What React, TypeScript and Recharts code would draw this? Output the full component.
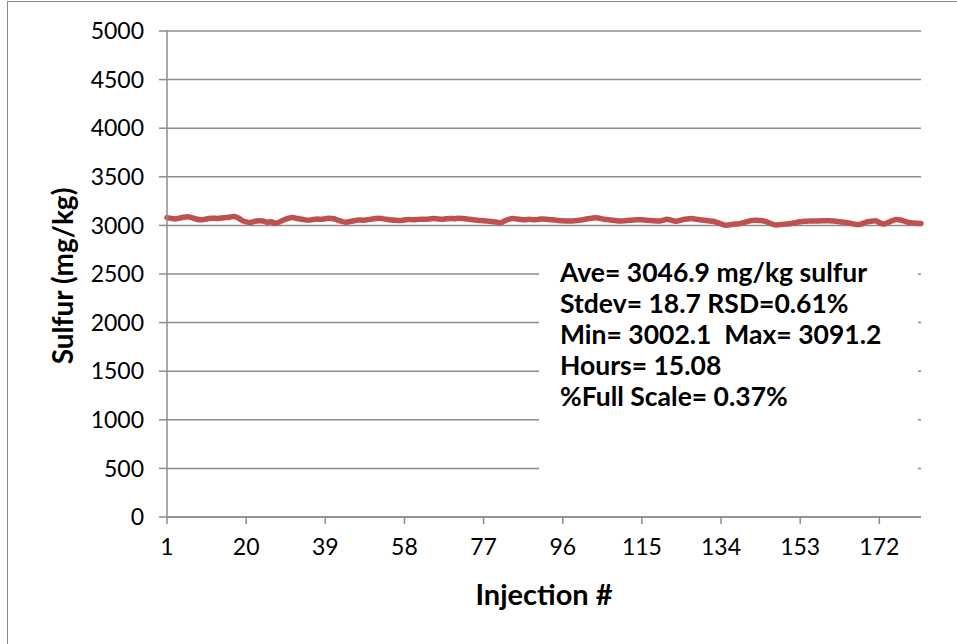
import React from 'react';
import { LineChart, Line, XAxis, YAxis, CartesianGrid, Label } from 'recharts';

// sulfur readings per injection, mg/kg
const sulfur = [
  3080, 3072, 3067, 3075, 3084, 3088, 3079, 3066, 3057, 3062,
  3070, 3074, 3071, 3076, 3080, 3084, 3091.2, 3078, 3052, 3036,
  3029, 3041, 3048, 3046, 3033, 3038, 3022, 3035, 3056, 3071,
  3080, 3074, 3066, 3058, 3053, 3060, 3065, 3062, 3069, 3074,
  3068, 3055, 3041, 3033, 3040, 3048, 3056, 3053, 3058, 3064,
  3070, 3074, 3067, 3061, 3055, 3052, 3050, 3056, 3061, 3058,
  3060, 3064, 3062, 3067, 3070, 3066, 3063, 3068, 3072, 3069,
  3073, 3070, 3066, 3060, 3055, 3051, 3048, 3044, 3040, 3034,
  3028, 3045, 3062, 3070, 3066, 3060, 3058, 3063, 3057, 3061,
  3066, 3064, 3059, 3055, 3050, 3047, 3045, 3044, 3049, 3052,
  3060, 3068, 3074, 3078, 3072, 3063, 3058, 3052, 3047, 3044,
  3048, 3052, 3055, 3059, 3058, 3054, 3050, 3047, 3044, 3052,
  3063, 3054, 3042, 3050, 3061, 3066, 3070, 3064, 3058, 3052,
  3047, 3042, 3030, 3016, 3002.1, 3006, 3012, 3015, 3024, 3036,
  3047, 3054, 3051, 3048, 3036, 3018, 3005, 3008, 3012, 3015,
  3022, 3030, 3037, 3042, 3044, 3046, 3045, 3047, 3049, 3048,
  3045, 3040, 3034, 3030, 3022, 3013, 3008, 3020, 3036, 3042,
  3048, 3030, 3015, 3028, 3046, 3060, 3056, 3044, 3030, 3026,
  3022, 3020,
];

const xTicks = [1, 20, 39, 58, 77, 96, 115, 134, 153, 172];
const yTicks = [0, 500, 1000, 1500, 2000, 2500, 3000, 3500, 4000, 4500, 5000];

const statLines = [
  'Ave= 3046.9 mg/kg sulfur',
  'Stdev= 18.7 RSD=0.61%',
  'Min= 3002.1  Max= 3091.2',
  'Hours= 15.08',
  '%Full Scale= 0.37%',
];

const data = sulfur.map((v, i) => ({ injection: i + 1, sulfur: v }));

const FONT = 'Lato, "DejaVu Sans", sans-serif';
const GRAY = '#8c8c8c';

export default function App() {
  return (
    <div style={{ position: 'absolute', left: 0, top: 0, width: 957, height: 644, background: '#fff', fontFamily: FONT }}>
      <div
        style={{
          position: 'absolute', left: 7, top: 1, width: 950, height: 643,
          borderLeft: '1.5px solid #8a8a8a', borderTop: '1.5px solid #8a8a8a',
        }}
      />
      <LineChart
        width={957}
        height={644}
        data={data}
        margin={{ top: 31, right: 36, bottom: 67, left: 0 }}
        style={{ position: 'absolute', left: 0, top: 0 }}
      >
        <CartesianGrid horizontal vertical={false} stroke={GRAY} strokeWidth={1.5} />
        <XAxis
          dataKey="injection"
          type="number"
          domain={[1, 182]}
          ticks={xTicks}
          interval={0}
          height={60}
          tickSize={7}
          tickMargin={15}
          stroke={GRAY}
          strokeWidth={1.5}
          tick={{ fill: '#000', fontSize: 23, fontFamily: FONT }}
        >
          <Label
            value="Injection #"
            position="bottom"
            offset={7}
            style={{ fontSize: 29, fontWeight: 700, fill: '#000', fontFamily: FONT }}
          />
        </XAxis>
        <YAxis
          type="number"
          domain={[0, 5000]}
          ticks={yTicks}
          interval={0}
          width={167}
          tickSize={8}
          tickMargin={15}
          stroke={GRAY}
          strokeWidth={1.5}
          tick={{ fill: '#000', fontSize: 23, fontFamily: FONT }}
        >
          <Label
            value="Sulfur (mg/kg)"
            angle={-90}
            position="center"
            dx={-20}
            dy={2}
            style={{ fontSize: 28, fontWeight: 700, fill: '#000', fontFamily: FONT, textAnchor: 'middle' }}
          />
        </YAxis>
        <Line
          type="monotone"
          dataKey="sulfur"
          stroke="#C0504D"
          strokeWidth={5.5}
          dot={false}
          strokeLinejoin="round"
          strokeLinecap="round"
          isAnimationActive={false}
        />
      </LineChart>
      <div
        style={{
          position: 'absolute', left: 539, top: 245, width: 379, height: 260,
          background: '#fff',
        }}
      >
        <div style={{ position: 'absolute', left: 21, top: 12, fontSize: 26.5, fontWeight: 700, lineHeight: '31px', color: '#000', whiteSpace: 'pre' }}>
          {statLines.map((s) => (
            <div key={s}>{s}</div>
          ))}
        </div>
      </div>
    </div>
  );
}
